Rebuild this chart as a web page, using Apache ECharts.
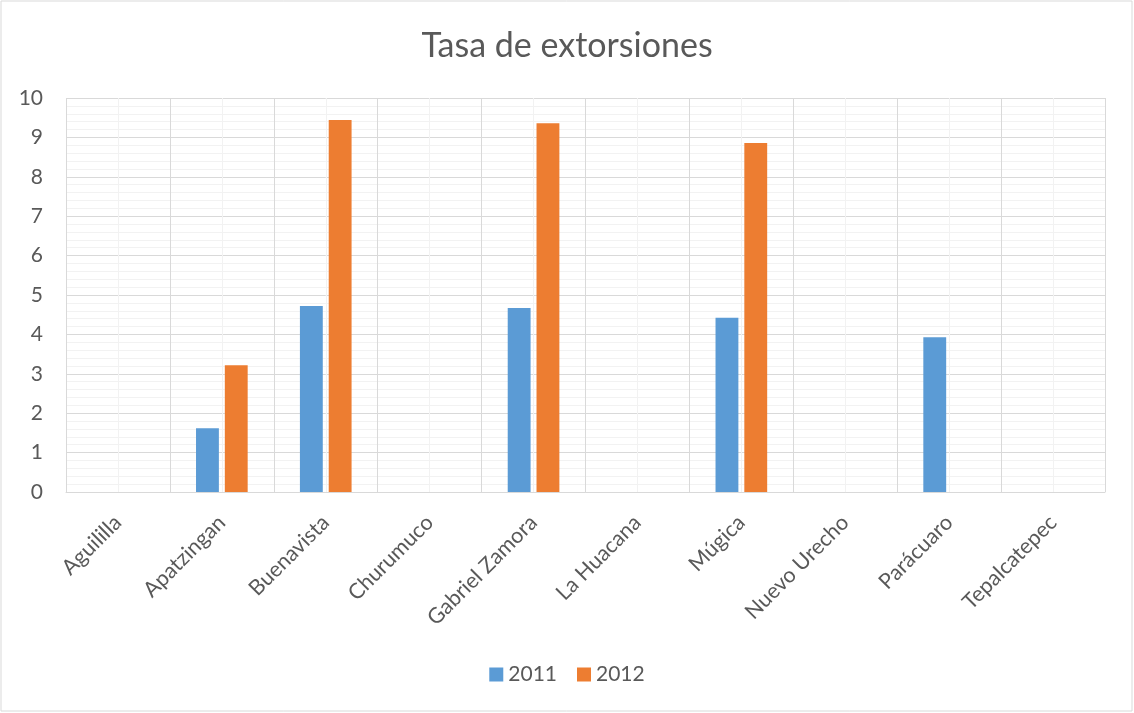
<!DOCTYPE html>
<html><head><meta charset="utf-8">
<script src="https://cdn.jsdelivr.net/npm/echarts@6/dist/echarts.min.js"></script>
<style>html,body{margin:0;padding:0;background:#fff}#c{width:1134px;height:713px}</style>
</head><body><div id="c"></div>
<script>
var categories = ["Aguililla","Apatzingan","Buenavista","Churumuco","Gabriel Zamora","La Huacana","Múgica","Nuevo Urecho","Parácuaro","Tepalcatepec"];
var values2011 = [0,1.62,4.72,0,4.67,0,4.42,0,3.93,0];
var values2012 = [0,3.22,9.44,0,9.36,0,8.86,0,0,0];
var yTicks = [0,1,2,3,4,5,6,7,8,9,10];
var FONT = "Lato, 'Open Sans', sans-serif";
var chart = echarts.init(document.getElementById('c'));
chart.setOption({
  backgroundColor:'#fff',
  animation:false,
  textStyle:{fontFamily:FONT},
  title:{text:'Tasa de extorsiones',left:'center',top:24,textStyle:{fontFamily:FONT,fontSize:34,fontWeight:'normal',color:'#595959'}},
  legend:{top:659,left:'center',itemWidth:14,itemHeight:14,itemGap:20,icon:'rect',textStyle:{fontFamily:FONT,fontSize:21,color:'#595959'},data:['2011','2012']},
  grid:{left:66,right:29,top:98,bottom:221,containLabel:false},
  graphic:[{type:'rect',shape:{x:1,y:1,width:1131,height:710},style:{fill:'none',stroke:'#d9d9d9',lineWidth:1},silent:true,z:-10}],
  xAxis:[
    {type:'value',min:0,max:20,interval:1,show:true,axisLine:{show:false},axisTick:{show:false},axisLabel:{show:false},splitLine:{show:true,lineStyle:{color:'#f2f2f2',width:1}}},
    {type:'category',data:categories,boundaryGap:true,position:'bottom',
     axisLine:{show:true,lineStyle:{color:'#d9d9d9',width:1}},axisTick:{show:false},
     splitLine:{show:true,lineStyle:{color:'#d9d9d9',width:1}},
     axisLabel:{rotate:45,interval:0,fontSize:21.5,color:'#595959',fontFamily:FONT,margin:27}}
  ],
  yAxis:{type:'value',min:0,max:10,interval:1,axisLine:{show:false},axisTick:{show:false},
    axisLabel:{fontSize:21,color:'#595959',fontFamily:FONT,margin:23,formatter:function(v){return yTicks.indexOf(v)>=0?String(v):'';}},
    splitLine:{show:true,lineStyle:{color:'#d9d9d9',width:1}},
    minorTick:{show:false,splitNumber:5},
    minorSplitLine:{show:true,lineStyle:{color:'#f2f2f2',width:1}}},
  series:[
    {name:'2011',type:'bar',xAxisIndex:1,data:values2011,barWidth:'22%',barGap:'26%',itemStyle:{color:'#5B9BD5'}},
    {name:'2012',type:'bar',xAxisIndex:1,data:values2012,barWidth:'22%',barGap:'26%',itemStyle:{color:'#ED7D31'}}
  ]
});
</script></body></html>
